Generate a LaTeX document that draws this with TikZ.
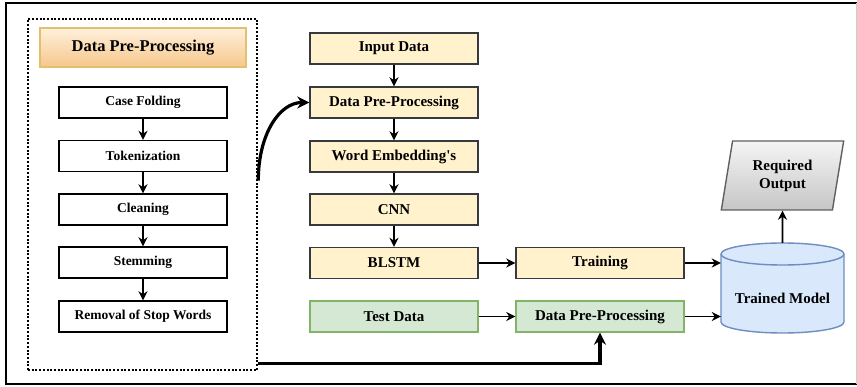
\documentclass[tikz,border=0pt]{standalone}
\usepackage{fontspec}
\setmainfont{Liberation Serif}
\usetikzlibrary{arrows.meta,calc,shapes.geometric}
\definecolor{yfill}{HTML}{FFF2CC}
\definecolor{ydraw}{HTML}{36393D}
\definecolor{gfill}{HTML}{D5E8D4}
\definecolor{gdraw}{HTML}{82B366}
\definecolor{bfill}{HTML}{DAE8FC}
\definecolor{bdraw}{HTML}{6C8EBF}
\definecolor{otop}{HTML}{FFF0DD}
\definecolor{obot}{HTML}{F6C78A}
\definecolor{odraw}{HTML}{E3C06E}
\tikzset{
  x=1pt, y=-1pt,
  base/.style={rectangle, inner sep=0pt, font=\bfseries},
  leftbox/.style={base, draw=black, line width=1.4pt, fill=white, minimum width=168pt, minimum height=31pt, font=\bfseries\fontsize{13.5}{15}\selectfont},
  midbox/.style={base, draw=ydraw, line width=1.4pt, fill=yfill, minimum width=168pt, minimum height=31pt, font=\bfseries\fontsize{15}{17}\selectfont},
  greenbox/.style={midbox, draw=gdraw, fill=gfill},
  arr/.style={-{Stealth[length=9pt,width=9pt]}, line width=1.6pt},
  thickarr/.style={-{Stealth[length=12pt,width=12pt]}, line width=3.2pt},
}
\begin{document}
\begin{tikzpicture}
\useasboundingbox (0,0) rectangle (857,387);
% outer frame
\draw[line width=2.2pt] (857,3) -- (6,3) -- (6,384) -- (857,384);
\draw[gray!40, line width=0.8pt] (856,3) -- (856,384);

% dotted container
\node[draw, line width=2.6pt, dash pattern=on 2pt off 1.7pt, minimum width=229pt, minimum height=351pt, inner sep=0pt] (dpbox) at (142.5,194.5) {};
\node[base, draw=odraw, line width=1.3pt, top color=otop, bottom color=obot, minimum width=206pt, minimum height=39pt, font=\bfseries\fontsize{16.5}{18}\selectfont] (hdr) at (143,47.5) {Data Pre-Processing};

\node[leftbox] (cf) at (143,102.5) {Case Folding};
\node[leftbox] (tok) at (143,156) {Tokenization};
\node[leftbox] (cle) at (143,209.5) {Cleaning};
\node[leftbox] (ste) at (143,262.5) {Stemming};
\node[leftbox] (rsw) at (143,316.5) {Removal of Stop Words};
\draw[arr] (cf) -- (tok);
\draw[arr] (tok) -- (cle);
\draw[arr] (cle) -- (ste);
\draw[arr] (ste) -- (rsw);

% middle column
\node[midbox] (inp) at (394,48.5) {Input Data};
\node[midbox] (dpp) at (394,102.5) {Data Pre-Processing};
\node[midbox] (we) at (394,156.5) {Word Embedding\textquotesingle s};
\node[midbox] (cnn) at (394,209.5) {CNN};
\node[midbox] (bl) at (394,263) {BLSTM};
\node[greenbox] (td) at (394,316.5) {Test Data};
\node[midbox] (tr) at (600,263) {Training};
\node[greenbox] (gdp) at (600,316.5) {Data Pre-Processing};
\draw[arr] (inp) -- (dpp);
\draw[arr] (dpp) -- (we);
\draw[arr] (we) -- (cnn);
\draw[arr] (cnn) -- (bl);
\draw[arr] (bl) -- (tr);
\draw[arr] (td) -- (gdp);

% trained model cylinder
\node[base, minimum width=123pt, minimum height=90pt] (tm) at (782.5,288) {};
\draw[draw=bdraw, fill=bfill, line width=1.4pt]
  (721,254) -- (721,322) arc[start angle=180, end angle=360, x radius=61.5, y radius=-11] -- (844,254)
  arc[start angle=0, end angle=180, x radius=61.5, y radius=-11] -- cycle;
\draw[draw=bdraw, line width=1.4pt] (721,254) arc[start angle=180, end angle=360, x radius=61.5, y radius=-11];
\node[font=\bfseries\fontsize{15}{17}\selectfont] (tmlabel) at (782.5,298) {Trained Model};

% required output
\node[trapezium, trapezium left angle=78, trapezium right angle=102, draw=gray!75!black, line width=1.4pt, top color=gray!8, bottom color=gray!45, minimum width=123pt, minimum height=69pt, inner sep=0pt, trapezium stretches=true, align=center, font=\bfseries\fontsize{15}{17}\selectfont] (ro) at (782.5,175.5) {Required\\[1pt]Output};

\draw[arr] (tm.north) -- (ro.south);
\draw[arr] (tr.east) -- (tm.west |- tr.east);
\draw[arr] (gdp.east) -- (tm.west |- gdp.east);

% connectors from container
\draw[thickarr] ([yshift=14pt]dpbox.east) .. controls ([yshift=60pt]dpbox.east) and ($(dpp.west)+(-30,0)$) .. (dpp.west);
\draw[thickarr] ([yshift=8pt]dpbox.south east) -| (gdp.south);
\end{tikzpicture}
\end{document}
